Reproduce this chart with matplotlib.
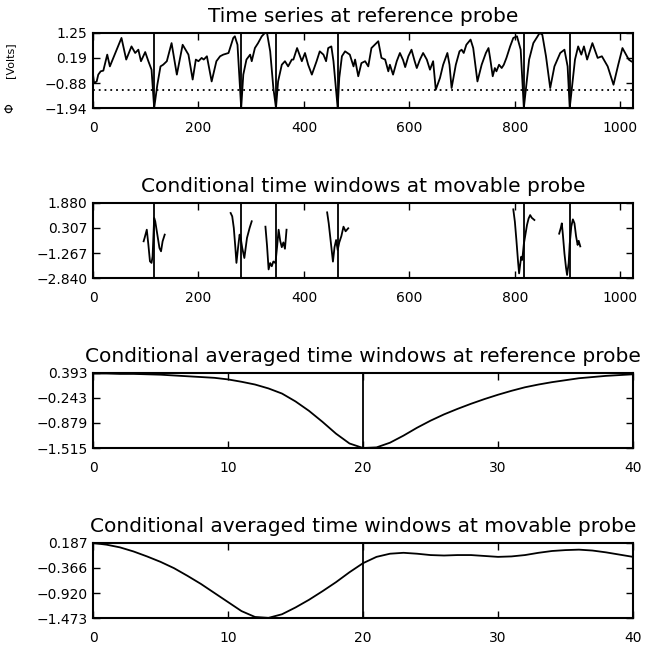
import matplotlib
matplotlib.use("Agg")
import matplotlib.pyplot as plt

# ---------------- data ----------------
events = [116, 281, 347, 464, 817, 904]
threshold = -1.16

ref_t = [0, 2, 7, 10, 14.5, 19.6, 24, 27, 32, 54, 63, 73, 80, 86, 91, 99, 105, 111, 116,
         122, 128, 133, 140, 149, 159, 170, 181, 189, 195, 200, 206, 210, 216, 225, 234,
         241, 247, 257, 266, 269, 274, 281, 285, 291, 298, 301, 307, 313, 320, 326, 330,
         336, 342, 347, 351, 358, 364, 370, 377, 380, 387, 396, 402, 408, 415, 424, 430,
         437, 442, 446, 452, 456, 464, 467, 472, 478, 487, 494, 497, 503, 509, 516, 522,
         528, 541, 547, 554, 560, 563, 569, 576, 582, 588, 592, 598, 604, 610, 614, 620,
         626, 633, 639, 645, 650, 658, 664, 672, 676, 680, 688, 695, 699, 703, 708, 716,
         721, 729, 737, 745, 750, 753, 758, 762, 765, 770, 775, 779, 784, 791, 797, 804,
         811, 817, 827, 835, 847, 852, 859, 867, 875, 886, 894, 900, 904, 914, 920, 926,
         931, 937, 947, 957, 965, 976, 987, 996, 1004, 1016, 1021]
ref_v = [-0.50, -0.88, -0.81, -0.52, -0.38, -0.35, 0.05, 0.33, -0.17, 1.04, 0.12, 0.68, 0.40,
         0.54, 0.05, 0.44, 0.05, -0.31, -1.94,
         -0.95, -0.17, -0.10, 0.05, 0.82, -0.52, 0.75, 0.33, -0.73, 0.12, 0.05, 0.19, 0.12,
         0.26, -0.81, 0.05,
         0.26, 0.33, 0.40, 1.04, 1.11, 0.75, -1.94, -0.52, 0.12, 0.33, 0.05, 0.61, 0.82, 1.11,
         1.25, 1.25,
         0.47, -1.09, -1.94, -0.81, -0.10, 0.05, -0.17, 0.12, 0.12, 0.61, 0.05, 0.40, -0.10,
         -0.52, 0.05, 0.47,
         0.33, 0.05, 0.61, 0.68, 0.05, -1.94, -0.66, 0.26, 0.47, 0.33, -0.17, 0.12, -0.59,
         -0.03, 0.05, -0.17,
         0.61, 0.90, 0.19, 0.12, -0.38, -0.10, -0.52, 0.05, 0.40, 0.10, -0.20, 0.26, 0.54,
         0.05, -0.24, 0.12,
         0.40, 0.12, -0.31, 0.05, -1.16, -0.66, -0.10, 0.40, -0.10, -1.09, -0.10, 0.47, 0.54,
         0.40, 0.75, 0.97,
         0.61, -0.81, -0.10, 0.40, 0.61, 0.19, -0.59, -0.24, -0.38, -0.10, -0.24, -0.10, 0.19,
         0.68, 1.04, 1.11,
         0.54, -1.94, 0.12, 0.82, 1.25, 1.18, 0.26, -1.09, -0.17, 0.40, 0.54, -0.17, -1.94,
         0.12, 0.68, 0.33,
         0.68, 0.12, 0.82, 0.19, 0.26, -0.17, -0.95, -0.10, 0.61, 0.12, 0.04]

win_t = [
    [96, 98, 102, 105, 108, 111, 113, 116, 118, 121, 126, 129, 132, 136],
    [261, 264, 267, 270, 272, 275, 278, 280, 283, 287, 292, 297, 301],
    [327, 330, 333, 336, 339, 342, 346, 349, 352, 355, 358, 361, 364, 367],
    [444, 447, 450, 453, 455, 458, 461, 464, 467, 471, 475, 479, 484],
    [797, 800, 803, 806, 808, 810, 812, 814, 817, 820, 823, 826, 829, 832, 837],
    [884, 887, 889, 891, 894, 897, 899, 902, 904, 907, 910, 913, 916, 919, 921, 924],
]
win_v = [
    [-0.53, -0.3, 0.20, -0.74, -1.79, -1.89, -1.48, 0.94, 0.73, 0.10, -0.95, -1.16, -0.53, -0.11],
    [1.25, 1.04, 0.31, -0.95, -1.89, -0.95, -0.11, -0.32, -0.95, -1.58, -0.32, 0.31, 0.73],
    [0.39, -0.8, -2.3, -1.9, -2.1, -1.8, -1.9, -0.9, 0.2, -0.5, -0.9, -0.6, -1.0, 0.2],
    [1.29, 0.6, -0.3, -1.2, -1.81, -0.9, -0.45, -1.08, -0.6, -0.2, 0.39, 0.1, 0.29],
    [1.48, 0.7, -0.5, -1.8, -2.55, -2.0, -1.5, -1.7, -0.7, -0.1, 0.5, 0.9, 1.12, 0.95, 0.81],
    [-0.05, 0.3, 0.6, -0.1, -1.3, -2.2, -2.65, -1.9, -0.7, 0.4, 0.85, 0.6, -0.2, -0.76, -0.5, -0.85],
]

avg_t = list(range(41))
avg_ref = [0.38, 0.38, 0.37, 0.37, 0.36, 0.35, 0.33, 0.31, 0.29, 0.27, 0.23, 0.17, 0.10, 0.00,
           -0.13, -0.33, -0.57, -0.85, -1.15, -1.40, -1.515, -1.50, -1.38, -1.20, -1.00, -0.82,
           -0.66, -0.52, -0.39, -0.27, -0.16, -0.06, 0.03, 0.10, 0.16, 0.21, 0.26, 0.29, 0.32,
           0.34, 0.36]
avg_mov = [0.187, 0.15, 0.09, 0.0, -0.11, -0.23, -0.37, -0.54, -0.72, -0.92, -1.12, -1.32,
           -1.45, -1.47, -1.39, -1.24, -1.07, -0.88, -0.68, -0.46, -0.26, -0.12, -0.05, -0.03,
           -0.05, -0.08, -0.09, -0.08, -0.08, -0.10, -0.12, -0.11, -0.08, -0.03, 0.01, 0.03,
           0.04, 0.02, -0.02, -0.07, -0.12]
avg_center = 20

titles = ["Time series at reference probe",
          "Conditional time windows at movable probe",
          "Conditional averaged time windows at reference probe",
          "Conditional averaged time windows at movable probe"]
yticks1 = [1.25, 0.19, -0.88, -1.94]
yticks2 = [1.880, 0.307, -1.267, -2.840]
yticks3 = [0.393, -0.243, -0.879, -1.515]
yticks4 = [0.187, -0.366, -0.920, -1.473]
ylab1 = ["1.25", "0.19", "\u22120.88", "\u22121.94"]
ylab2 = ["1.880", "0.307", "\u22121.267", "\u22122.840"]
ylab3 = ["0.393", "\u22120.243", "\u22120.879", "\u22121.515"]
ylab4 = ["0.187", "\u22120.366", "\u22120.920", "\u22121.473"]
xticks_long = [0, 200, 400, 600, 800, 1000]
xticks_short = [0, 10, 20, 30, 40]

# ---------------- figure ----------------
plt.rcParams['font.family'] = ['DejaVu Sans']
fig = plt.figure(figsize=(6.45, 6.5), dpi=100)
W, H = 645.0, 650.0
left, right = 93 / W, 633 / W
tops = [33, 203, 373, 543]
bottoms = [108, 278, 448, 618]
axes = []
for t, b in zip(tops, bottoms):
    ax = fig.add_axes([left, 1 - b / H, right - left, (b - t) / H])
    axes.append(ax)

lw = 1.3
ax1, ax2, ax3, ax4 = axes
ax1.plot(ref_t, ref_v, color='black', lw=lw)
ax1.axhline(threshold, color='black', lw=1.3, ls=(0, (1, 2.2)))
for e in events:
    ax1.axvline(e, color='black', lw=1.3)
    ax2.axvline(e, color='black', lw=1.3)
for tt, vv in zip(win_t, win_v):
    ax2.plot(tt, vv, color='black', lw=lw)
ax3.plot(avg_t, avg_ref, color='black', lw=lw)
ax3.axvline(avg_center, color='black', lw=1.3)
ax4.plot(avg_t, avg_mov, color='black', lw=lw)
ax4.axvline(avg_center, color='black', lw=1.3)

specs = [(yticks1, ylab1, (0, 1024), xticks_long),
         (yticks2, ylab2, (0, 1024), xticks_long),
         (yticks3, ylab3, (0, 40), xticks_short),
         (yticks4, ylab4, (0, 40), xticks_short)]
for ax, (yt, yl, xl, xt), title in zip(axes, specs, titles):
    ax.set_ylim(yt[-1], yt[0])
    ax.set_xlim(*xl)
    ax.set_yticks(yt)
    ax.set_yticklabels(yl)
    ax.set_xticks(xt)
    ax.set_xticklabels([str(v) for v in xt])
    ax.tick_params(axis='both', direction='in', top=True, right=True, length=5,
                   width=1.0, labelsize=10)
    ax.tick_params(axis='x', pad=9)
    ax.tick_params(axis='y', pad=4)
    for s in ax.spines.values():
        s.set_linewidth(1.5)
    ax.text(0.5, 1.22, title, transform=ax.transAxes, ha='center', va='center',
            fontsize=14.5)

fig.text(10 / W, 1 - 60 / H, "[Volts]", rotation=90, ha='center', va='center', fontsize=8)
fig.text(10 / W, 1 - 108 / H, "\u03a6", rotation=90, ha='center', va='center', fontsize=9)

fig.savefig("out.png", dpi=100)
